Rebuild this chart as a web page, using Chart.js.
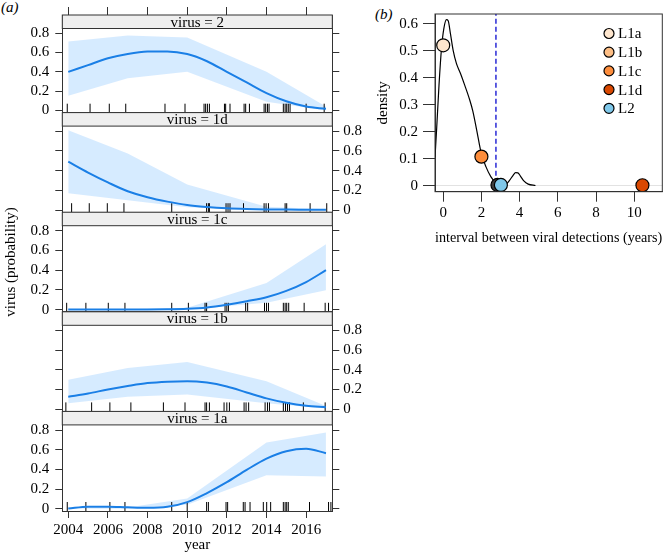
<!DOCTYPE html>
<html>
<head>
<meta charset="utf-8">
<script src="https://cdn.jsdelivr.net/npm/chart.js@4.4.1/dist/chart.umd.min.js"></script>
<style>
  html, body { margin: 0; padding: 0; background: #fff; }
  #wrap { position: relative; width: 670px; height: 554px; overflow: hidden; font-family: "Liberation Serif", serif; }
  #wrap canvas { position: absolute; top: 0; }
  .tag { position: absolute; font-style: italic; font-size: 15px; line-height: 15px; }
</style>
</head>
<body>
<div id="wrap">
  <span class="tag" style="left:1px;top:0px">(a)</span>
  <span class="tag" style="left:375px;top:7px">(b)</span>
  <canvas id="pa0" width="380" height="554" style="left:0"></canvas>
  <canvas id="pa1" width="380" height="554" style="left:0"></canvas>
  <canvas id="pa2" width="380" height="554" style="left:0"></canvas>
  <canvas id="pa3" width="380" height="554" style="left:0"></canvas>
  <canvas id="pa4" width="380" height="554" style="left:0"></canvas>
  <canvas id="pb" width="330" height="250" style="left:340px"></canvas>
</div>
<script>
// ---- panel (a): fitted probabilities by year ----
const fitYears = [2004, 2005, 2006, 2007, 2008, 2009, 2010, 2011, 2012, 2013, 2014, 2015, 2016, 2017];
const fit2  = [0.40, 0.47, 0.54, 0.585, 0.61, 0.612, 0.585, 0.51, 0.40, 0.29, 0.18, 0.095, 0.04, 0.017];
const fit1d = [0.49, 0.38, 0.28, 0.19, 0.13, 0.085, 0.05, 0.03, 0.017, 0.01, 0.006, 0.004, 0.003, 0.002];
const fit1c = [0.002, 0.002, 0.002, 0.002, 0.002, 0.003, 0.008, 0.022, 0.05, 0.085, 0.125, 0.19, 0.28, 0.40];
const fit1b = [0.127, 0.16, 0.2, 0.235, 0.265, 0.28, 0.285, 0.27, 0.23, 0.17, 0.11, 0.065, 0.035, 0.02];
const fit1a = [0.003, 0.022, 0.022, 0.015, 0.01, 0.02, 0.068, 0.16, 0.27, 0.395, 0.51, 0.585, 0.61, 0.565];

// confidence band, evaluated at fewer years
const bandYears = [2004, 2007, 2010, 2014, 2017];
const lower2  = [0.153, 0.334, 0.402, 0.09, 0.0];
const upper2  = [0.715, 0.776, 0.757, 0.40, 0.04];
const lower1d = [0.169, 0.10, 0.027, 0.001, 0.0];
const upper1d = [0.81, 0.574, 0.26, 0.034, 0.007];
const lower1c = [0.0, 0.0, 0.0, 0.07, 0.197];
const upper1c = [0.004, 0.004, 0.02, 0.27, 0.664];
const lower1b = [0.06, 0.127, 0.15, 0.06, 0.007];
const upper1b = [0.30, 0.418, 0.479, 0.285, 0.033];
const lower1a = [0.0, 0.0, 0.04, 0.34, 0.327];
const upper1a = [0.004, 0.012, 0.105, 0.674, 0.776];

// rug of observation years (jittered)
const rug2  = [2003.95, 2005.1, 2006.07, 2006.9, 2008.88, 2009.89, 2010.85, 2010.93, 2011.02, 2011.12, 2011.88, 2011.94, 2012.16,
               2012.87, 2012.95, 2013.14, 2013.88, 2013.96, 2014.05, 2014.13, 2014.85, 2014.94, 2015.02, 2015.1, 2015.19, 2016.0, 2016.91];
const rug1d = [2004.17, 2005.06, 2005.97, 2006.81, 2009.22, 2010.98, 2011.07, 2011.12, 2011.96, 2012.06, 2012.16, 2012.84,
               2013.88, 2013.98, 2014.1, 2014.94, 2015.02, 2016.2, 2017.04];
const rug1c = [2003.92, 2004.89, 2006.02, 2006.86, 2009.22, 2010.06, 2010.9, 2010.98, 2011.91, 2012.0, 2012.08, 2012.95, 2013.05,
               2013.9, 2014.0, 2014.1, 2014.85, 2014.94, 2015.02, 2015.12, 2015.9, 2016.96, 2017.13];
const rug1b = [2003.88, 2005.18, 2006.1, 2007.16, 2008.8, 2009.89, 2010.9, 2010.98, 2011.12, 2011.86, 2012.0, 2012.13, 2012.87,
               2012.97, 2013.1, 2013.93, 2014.05, 2014.15, 2014.85, 2014.96, 2015.06, 2015.16, 2015.86, 2016.96];
const rug1a = [2003.95, 2004.89, 2006.1, 2006.86, 2009.22, 2010.0, 2010.98, 2011.07, 2011.96, 2012.04, 2012.83, 2012.92, 2013.17,
               2013.84, 2014.01, 2014.21, 2014.85, 2014.94, 2015.02, 2015.1, 2016.17, 2017.13, 2017.25];

const virusLabels = ["2", "1d", "1c", "1b", "1a"];
const yearTicks = [2004, 2006, 2008, 2010, 2012, 2014, 2016];
const probTicks = [0, 0.2, 0.4, 0.6, 0.8];

// ---- panel (b): density of intervals ----
const densX = [-0.43, -0.34, -0.22, -0.09, 0.03, 0.17, 0.26, 0.38, 0.52, 0.69, 0.90, 1.12, 1.38, 1.55, 1.76, 1.98,
               2.24, 2.50, 2.76, 3.02, 3.28, 3.48, 3.66, 3.79, 3.91, 4.05, 4.22, 4.45, 4.83];
const densY = [0.106, 0.216, 0.374, 0.509, 0.582, 0.616, 0.612, 0.563, 0.502, 0.454, 0.417, 0.374, 0.32, 0.277, 0.204, 0.124,
               0.07, 0.033, 0.011, 0.002, 0.005, 0.021, 0.039, 0.049, 0.048, 0.035, 0.018, 0.006, 0.001];
const lineageNames  = ["L1a", "L1b", "L1c", "L1d", "L2"];
const lineageColors = ["#fee6ce", "#fdbe85", "#fd8d3c", "#d94801", "#7fc8ea"];
// plotted points (L1b sits hidden behind L2)
const pointX    = [0.0, 2.84, 2.0, 10.43, 3.02];
const pointY    = [0.521, 0.003, 0.108, 0.002, 0.003];
const pointFill = ["#fee6ce", "#3d3d3d", "#fd8d3c", "#d94801", "#7fc8ea"];
const cutoff = 2.76;
const intervalTicks = [0, 2, 4, 6, 8, 10];
const densityTicks = [0, 0.1, 0.2, 0.3, 0.4, 0.5, 0.6];

const serif = '"Liberation Serif", "DejaVu Serif", serif';
const ink = "#333";
const lineBlue = "#1a7fe6";
const bandFill = "rgba(0, 128, 255, 0.16)";

Chart.defaults.font.family = serif;
Chart.defaults.font.size = 15;
Chart.defaults.color = "#000";

const fixedTicks = (vals) => (scale) => { scale.ticks = vals.map((v) => ({ value: v })); };
const fmt = (v) => (v === 0 ? "0" : String(+v.toFixed(1)));

const panels = [
  { label: virusLabels[0], fit: fit2,  lower: lower2,  upper: upper2,  rug: rug2 },
  { label: virusLabels[1], fit: fit1d, lower: lower1d, upper: upper1d, rug: rug1d },
  { label: virusLabels[2], fit: fit1c, lower: lower1c, upper: upper1c, rug: rug1c },
  { label: virusLabels[3], fit: fit1b, lower: lower1b, upper: upper1b, rug: rug1b },
  { label: virusLabels[4], fit: fit1a, lower: lower1a, upper: upper1a, rug: rug1a }
];

const A_W = 380, A_H = 554;
const plotLeft = 62.3, plotRight = 332.3;
const firstTop = 13, pitch = 99.6;
const yLo = -0.0223, yHi = 0.989;
const pxPerUnit = pitch / (yHi - yLo);
const stripH = 13.5;
const rugLen = 9;

const stripPlugin = {
  id: "strip",
  afterDatasetsDraw(chart, args, opts) {
    const { ctx, chartArea } = chart;
    const { left, right, top } = chartArea;
    ctx.save();
    ctx.fillStyle = "#efefef";
    ctx.fillRect(left, top, right - left, stripH);
    ctx.strokeStyle = ink;
    ctx.lineWidth = 1;
    ctx.strokeRect(left, top, right - left, stripH);
    ctx.fillStyle = "#000";
    ctx.font = "15px " + serif;
    ctx.textAlign = "center";
    ctx.textBaseline = "middle";
    ctx.fillText(opts.text, (left + right) / 2, top + stripH / 2 + 1);
    ctx.restore();
  }
};

function makePanel(idx, p) {
  const top = firstTop + pitch * idx;
  const bottom = top + pitch;
  const first = idx === 0;
  const last = idx === panels.length - 1;
  const labelsLeft = idx % 2 === 0;
  const rugY = yLo + (rugLen / 2) / pxPerUnit;

  const scales = {
    x: {
      type: "linear",
      min: 2003.7,
      max: 2017.32,
      afterBuildTicks: fixedTicks(yearTicks),
      afterFit: (s) => { s.height = last ? A_H - bottom : 0; },
      ticks: { display: last, padding: 3, autoSkip: false, maxRotation: 0, callback: (v) => String(v) },
      grid: { drawOnChartArea: false, drawTicks: last, tickLength: 7, color: ink },
      border: { display: true, color: ink },
      title: { display: last, text: "year", padding: { top: 0, bottom: 0 } }
    },
    y: {
      position: "left",
      min: yLo,
      max: yHi,
      afterBuildTicks: fixedTicks(probTicks),
      afterFit: (s) => { s.width = plotLeft; },
      ticks: { display: labelsLeft, padding: 6, callback: fmt },
      grid: { drawOnChartArea: false, tickLength: 7, color: ink },
      border: { display: true, color: ink },
      title: { display: idx === 2, text: "virus (probability)", padding: { top: 2, bottom: 0 } }
    },
    y2: {
      position: "right",
      min: yLo,
      max: yHi,
      afterBuildTicks: fixedTicks(probTicks),
      afterFit: (s) => { s.width = A_W - plotRight; },
      ticks: { display: !labelsLeft, padding: 4, callback: fmt },
      grid: { drawOnChartArea: false, tickLength: 7, color: ink },
      border: { display: true, color: ink }
    }
  };
  if (first) {
    scales.xTop = {
      type: "linear",
      position: "top",
      min: 2003.7,
      max: 2017.32,
      afterBuildTicks: fixedTicks(yearTicks),
      afterFit: (s) => { s.height = top; },
      ticks: { display: false },
      grid: { drawOnChartArea: false, tickLength: 8, color: ink },
      border: { display: true, color: ink }
    };
  }

  return new Chart(document.getElementById("pa" + idx), {
    type: "line",
    data: {
      datasets: [
        {
          data: p.fit.map((y, i) => ({ x: fitYears[i], y })),
          borderColor: lineBlue,
          borderWidth: 2,
          pointRadius: 0,
          cubicInterpolationMode: "monotone",
          fill: false,
          order: 0
        },
        {
          data: p.rug.map((x) => ({ x, y: rugY })),
          showLine: false,
          pointStyle: "line",
          rotation: 90,
          pointRadius: rugLen / 2,
          pointBorderColor: "#000",
          pointBorderWidth: 1,
          order: 1
        },
        {
          data: p.upper.map((y, i) => ({ x: bandYears[i], y })),
          borderWidth: 0,
          borderColor: "rgba(0,0,0,0)",
          pointRadius: 0,
          backgroundColor: bandFill,
          fill: "+1",
          order: 2
        },
        {
          data: p.lower.map((y, i) => ({ x: bandYears[i], y })),
          borderWidth: 0,
          borderColor: "rgba(0,0,0,0)",
          pointRadius: 0,
          fill: false,
          order: 3
        }
      ]
    },
    options: {
      responsive: false,
      devicePixelRatio: 1,
      animation: false,
      layout: {
        padding: {
          left: 0,
          right: 0,
          top: first ? 0 : top,
          bottom: last ? 0 : A_H - bottom
        }
      },
      plugins: {
        legend: { display: false },
        tooltip: { enabled: false },
        filler: { drawTime: "beforeDatasetsDraw" },
        strip: { text: "virus = " + p.label }
      },
      scales
    },
    plugins: [stripPlugin]
  });
}

panels.forEach((p, i) => makePanel(i, p));

// ---- panel (b) ----
const boxPlugin = {
  id: "box",
  afterDraw(chart) {
    const { ctx, chartArea } = chart;
    ctx.save();
    ctx.strokeStyle = ink;
    ctx.lineWidth = 1;
    ctx.strokeRect(chartArea.left, chartArea.top, chartArea.right - chartArea.left, chartArea.bottom - chartArea.top);
    ctx.restore();
  }
};

const legendPlugin = {
  id: "lineageLegend",
  afterDraw(chart) {
    const { ctx } = chart;
    const x0 = 269, y0 = 33.5, step = 18.7;
    ctx.save();
    ctx.font = "15px " + serif;
    ctx.textBaseline = "middle";
    lineageNames.forEach((name, i) => {
      const y = y0 + step * i;
      ctx.beginPath();
      ctx.arc(x0, y, 5, 0, Math.PI * 2);
      ctx.fillStyle = lineageColors[i];
      ctx.fill();
      ctx.strokeStyle = "#000";
      ctx.lineWidth = 1.2;
      ctx.stroke();
      ctx.fillStyle = "#000";
      ctx.fillText(name, x0 + 9, y + 1);
    });
    ctx.restore();
  }
};

const B_H = 250;
const bBottom = 191.7;

new Chart(document.getElementById("pb"), {
  type: "line",
  data: {
    datasets: [
      {
        data: pointX.map((x, i) => ({ x, y: pointY[i] })),
        showLine: false,
        pointRadius: 6.5,
        pointBackgroundColor: pointFill,
        pointBorderColor: "#000",
        pointBorderWidth: 1.2,
        order: 0
      },
      {
        data: [{ x: cutoff, y: -0.022 }, { x: cutoff, y: 0.637 }],
        borderColor: "#3636d8",
        borderWidth: 1.6,
        borderDash: [5, 3],
        pointRadius: 0,
        order: 1
      },
      {
        data: densX.map((x, i) => ({ x, y: densY[i] })),
        borderColor: "#000",
        borderWidth: 1.2,
        pointRadius: 0,
        cubicInterpolationMode: "monotone",
        order: 2
      }
    ]
  },
  options: {
    responsive: false,
    devicePixelRatio: 1,
    animation: false,
    layout: { padding: { left: 34, right: 5, top: 11.7, bottom: 0 } },
    plugins: { legend: { display: false }, tooltip: { enabled: false } },
    scales: {
      x: {
        type: "linear",
        min: -0.43,
        max: 11.47,
        afterBuildTicks: fixedTicks(intervalTicks),
        afterFit: (s) => { s.height = B_H - bBottom; },
        ticks: { padding: 2, autoSkip: false, maxRotation: 0 },
        grid: { drawOnChartArea: false, tickLength: 10, color: ink },
        border: { display: true, color: ink },
        title: { display: true, text: "interval between viral detections (years)", padding: { top: 0, bottom: 3 } }
      },
      y: {
        min: -0.022,
        max: 0.637,
        afterBuildTicks: fixedTicks(densityTicks),
        afterFit: (s) => { s.width = 61; },
        ticks: { padding: 5, callback: fmt },
        grid: {
          color: (c) => (c.tick && c.tick.value === 0 ? "#e2e2e2" : "rgba(0,0,0,0)"),
          tickColor: ink,
          tickLength: 12
        },
        border: { display: true, color: ink },
        title: { display: true, text: "density", padding: { top: 0, bottom: 0 } }
      }
    }
  },
  plugins: [boxPlugin, legendPlugin]
});
</script>
</body>
</html>
